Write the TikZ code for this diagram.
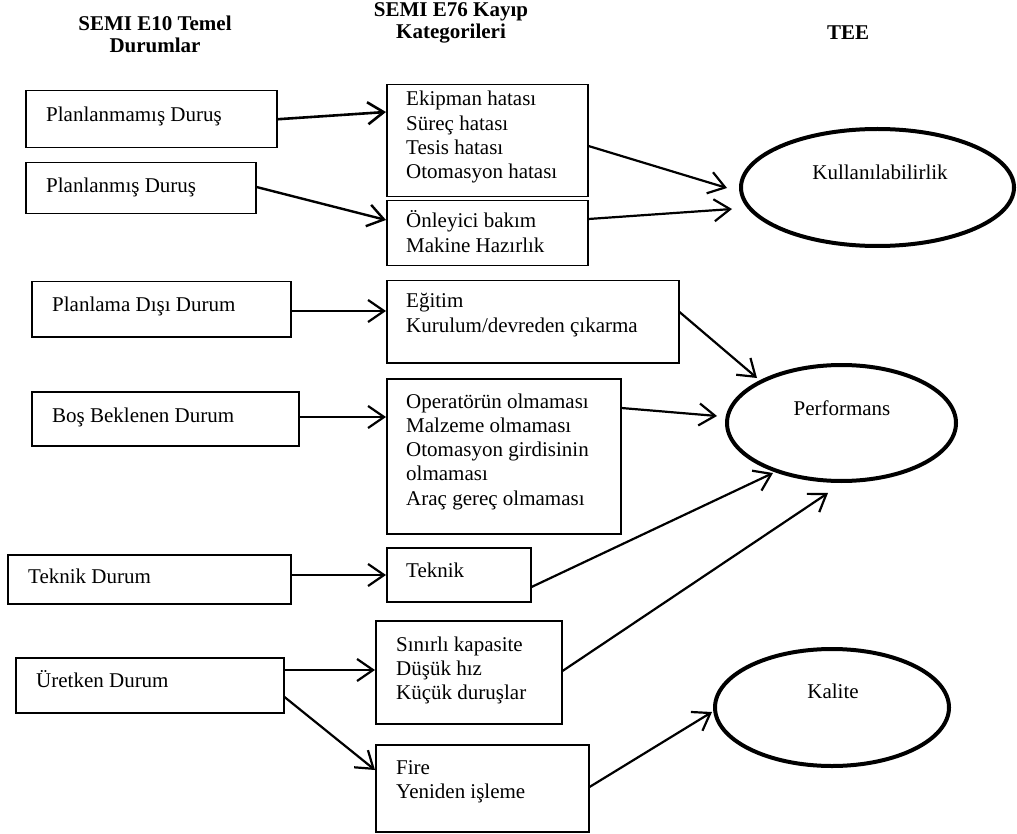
\documentclass[tikz,border=0pt]{standalone}
\usepackage{fontspec}
\setmainfont{Liberation Serif}
\usetikzlibrary{arrows.meta,shapes.geometric}
\newcommand{\txtlines}[1]{\begin{tabular}[t]{@{}l@{}}#1\end{tabular}}
\newcommand{\headlines}[1]{\begin{tabular}[t]{@{}c@{}}#1\end{tabular}}

\begin{document}
\begin{tikzpicture}[x=1pt,y=-1pt,
  box/.style={draw, line width=1.5pt, anchor=north west, inner sep=0pt},
  oval/.style={draw, ellipse, line width=4pt, inner sep=0pt},
  lbl/.style={anchor=base west, inner sep=0pt, font=\fontsize{21}{24.3}\selectfont},
  olbl/.style={anchor=base, inner sep=0pt, font=\fontsize{21}{24}\selectfont},
  head/.style={anchor=base, inner sep=0pt, font=\bfseries\fontsize{21}{22}\selectfont},
  arr/.style={-{Straight Barb[length=16pt,width=22pt]}, line width=2.2pt},
]
\useasboundingbox (0,0) rectangle (1017,834);

% column headings
\node[head] (h1) at (155,31) {\headlines{SEMI E10 Temel\\Durumlar}};
\node[head] (h2) at (451,17) {\headlines{SEMI E76 Kayıp\\Kategorileri}};
\node[head] (h3) at (848,40) {TEE};

% SEMI E10 states
\node[box, minimum width=251pt, minimum height=57pt] (l1) at (25,90) {};
\node[box, minimum width=230pt, minimum height=51pt] (l2) at (25,162) {};
\node[box, minimum width=259pt, minimum height=55pt] (l3) at (31,281) {};
\node[box, minimum width=267pt, minimum height=54pt] (l4) at (31,391) {};
\node[box, minimum width=283pt, minimum height=49pt] (l5) at (7,554) {};
\node[box, minimum width=268pt, minimum height=55pt] (l6) at (15,657) {};

\node[lbl] (t1) at (46,122) {Planlanmamış Duruş};
\node[lbl] (t2) at (46,193) {Planlanmış Duruş};
\node[lbl] (t3) at (52,312) {Planlama Dışı Durum};
\node[lbl] (t4) at (52,422) {Boş Beklenen Durum};
\node[lbl] (t5) at (28,583) {Teknik Durum};
\node[lbl] (t6) at (36,687) {Üretken Durum};

% SEMI E76 loss categories
\node[box, minimum width=201pt, minimum height=112pt] (m1) at (386,84) {};
\node[box, minimum width=201pt, minimum height=65pt] (m2) at (386,200) {};
\node[box, minimum width=292pt, minimum height=82pt] (m3) at (386,280) {};
\node[box, minimum width=234pt, minimum height=155pt] (m4) at (386,378) {};
\node[box, minimum width=144pt, minimum height=54pt] (m5) at (386,547) {};
\node[box, minimum width=186pt, minimum height=103pt] (m6) at (375,620) {};
\node[box, minimum width=213pt, minimum height=87pt] (m7) at (375,744) {};

\node[lbl] (u1) at (406,106) {\txtlines{Ekipman hatası\\Süreç hatası\\Tesis hatası\\Otomasyon hatası}};
\node[lbl] (u2) at (406,228) {\txtlines{Önleyici bakım\\Makine Hazırlık}};
\node[lbl] (u3) at (406,308) {\txtlines{Eğitim\\Kurulum/devreden çıkarma}};
\node[lbl] (u4) at (406,408) {\txtlines{Operatörün olmaması\\Malzeme olmaması\\Otomasyon girdisinin\\olmaması\\Araç gereç olmaması}};
\node[lbl] (u5) at (406,577) {Teknik};
\node[lbl] (u6) at (396,651) {\txtlines{Sınırlı kapasite\\Düşük hız\\Küçük duruşlar}};
\node[lbl] (u7) at (396,774) {\txtlines{Fire\\Yeniden işleme}};

% OEE components
\node[oval, minimum width=273pt, minimum height=117pt] (e1) at (877.5,187.5) {};
\node[oval, minimum width=229pt, minimum height=116pt] (e2) at (841.5,423) {};
\node[oval, minimum width=234pt, minimum height=117pt] (e3) at (832,707.5) {};

\node[olbl] (k1) at (880,180) {Kullanılabilirlik};
\node[olbl] (k2) at (842,415) {Performans};
\node[olbl] (k3) at (833,698) {Kalite};

% E10 -> E76
\draw[arr, line width=2.6pt] (l1.east) -- ([yshift=-28pt]m1.north west);
\draw[arr, line width=2.4pt] ([yshift=-25pt]l2.north east) -- ([yshift=-20pt]m2.north west);
\draw[arr] ([yshift=-30pt]l3.north east) -- ([yshift=-31pt]m3.north west);
\draw[arr] ([yshift=-26pt]l4.north east) -- ([yshift=-39pt]m4.north west);
\draw[arr] ([yshift=-21pt]l5.north east) -- ([yshift=-28pt]m5.north west);
\draw[arr] ([yshift=-13pt]l6.north east) -- ([yshift=-50pt]m6.north west);
\draw[arr] ([yshift=-40pt]l6.north east) -- ([yshift=-26pt]m7.north west);

% E76 -> OEE
\draw[arr] ([yshift=-62pt]m1.north east) -- ([shift={(-12pt,-0.5pt)}]e1.west);
\draw[arr] ([yshift=-19pt]m2.north east) -- ([shift={(-7pt,-21.5pt)}]e1.west);
\draw[arr] ([yshift=-32pt]m3.north east) -- ([shift={(-84.5pt,45pt)}]e2.center);
\draw[arr] ([yshift=-30pt]m4.north east) -- ([shift={(-124.5pt,7pt)}]e2.center);
\draw[arr] ([yshift=-40pt]m5.north east) -- ([shift={(-68.5pt,-50pt)}]e2.center);
\draw[arr] ([yshift=-51pt]m6.north east) -- ([shift={(-13.5pt,-70pt)}]e2.center);
\draw[arr] ([yshift=-43pt]m7.north east) -- ([shift={(-120pt,-4.5pt)}]e3.center);
\end{tikzpicture}
\end{document}
